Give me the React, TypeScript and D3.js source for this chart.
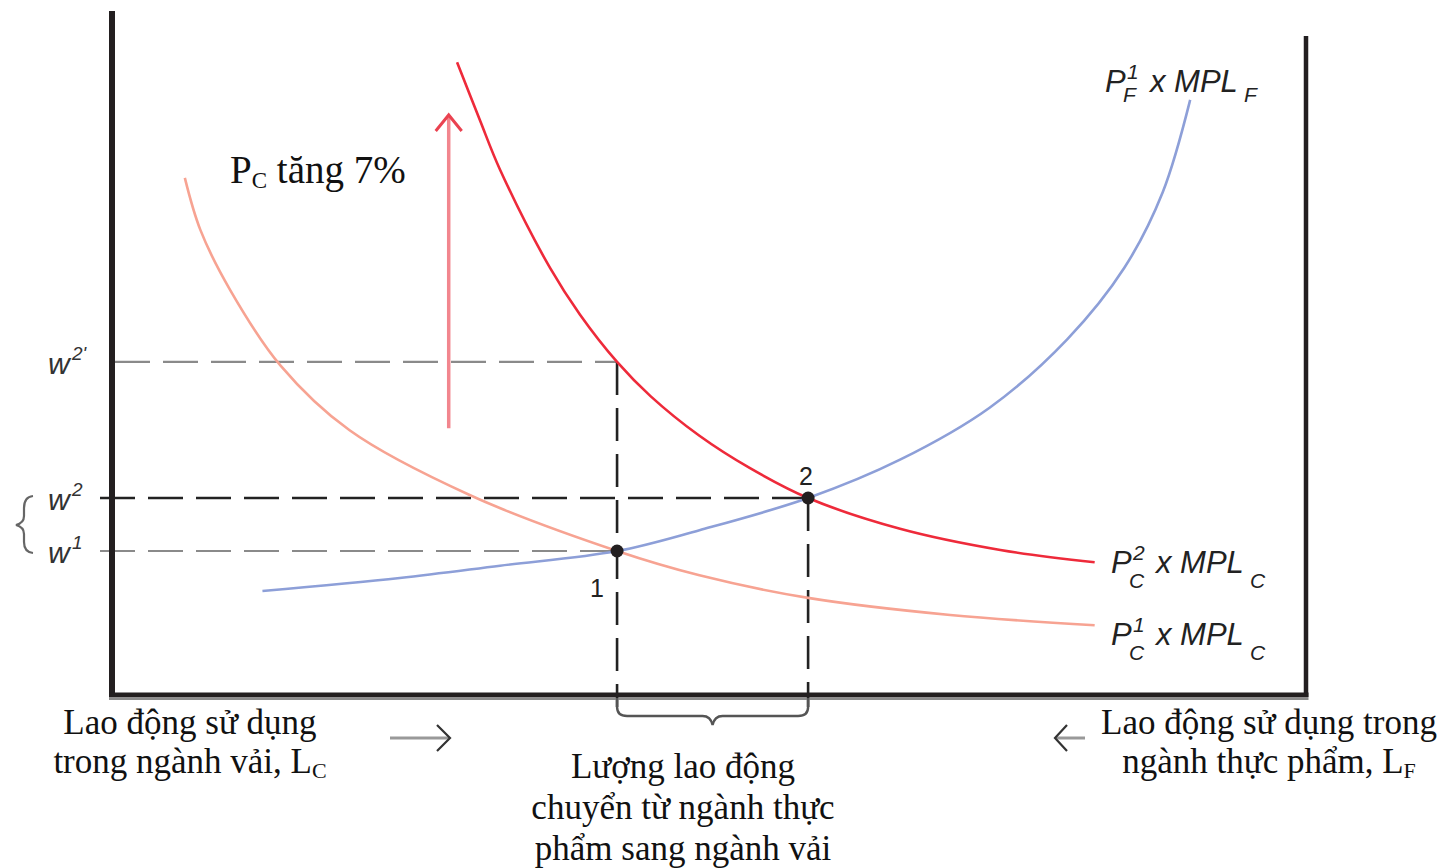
import React from "react";
import * as d3 from "d3";

const W = 1446;
const H = 868;

// Curves in (labor units 0-100, wage units 0-100)
const mplFCurve: [number, number][] = [
  [12.6, 15.2], [24.1, 17.1], [32.5, 18.9], [42.3, 21.05], [49.2, 24.1],
  [58.3, 28.8], [66.0, 34.4], [73.5, 42.0], [80.0, 52.0], [84.8, 62.5],
  [88.0, 73.5], [90.3, 87.0],
];
const mplC1Curve: [number, number][] = [
  [6.1, 75.6], [7.4, 68.0], [9.9, 59.2], [14.1, 48.2], [19.9, 38.7],
  [30.0, 29.2], [42.3, 21.05], [49.2, 17.5], [58.3, 14.2], [70.2, 11.7],
  [82.3, 10.2],
];
const mplC2Curve: [number, number][] = [
  [28.9, 92.5], [30.8, 84.1], [32.5, 76.8], [36.7, 62.4], [39.2, 55.6],
  [42.3, 48.7], [45.1, 43.7], [49.2, 37.9], [53.4, 33.2], [58.3, 28.8],
  [66.0, 24.3], [74.4, 21.2], [82.3, 19.4],
];

const wage1 = 21.05;
const wage2 = 28.8;
const wage2p = 48.7;
const labor1 = 42.3;
const labor2 = 58.3;

const arrowX = 28.2;
const arrowFrom = 39.0;
const arrowTo = 84.8;

const leftLabelLines = ["Lao động sử dụng", "trong ngành vải, L"];
const rightLabelLines = ["Lao động sử dụng trong", "ngành thực phẩm, L"];
const midLabelLines = ["Lượng lao động", "chuyển từ ngành thực", "phẩm sang ngành vải"];

const x = d3.scaleLinear().domain([0, 100]).range([112, 1306]);
const y = d3.scaleLinear().domain([0, 100]).range([695, 11]);

const line = d3
  .line<[number, number]>()
  .x((d) => x(d[0]))
  .y((d) => y(d[1]))
  .curve(d3.curveCatmullRom.alpha(0.5));

const SANS = "'Liberation Sans', Arial, sans-serif";
const SERIF = "'Liberation Serif', 'Times New Roman', serif";

function CurveLabel({ px, py, sup, sub, subDy }: { px: number; py: number; sup: string; sub: string; subDy: number }) {
  return (
    <g fontFamily={SANS} fontStyle="italic" fill="#222">
      <text x={px} y={py} fontSize={31}>P</text>
      <text x={px + 22} y={py - 13} fontSize={21}>{sup}</text>
      <text x={px + 18} y={py + subDy} fontSize={21}>{sub}</text>
      <text x={px + 45} y={py} fontSize={31}>x MPL</text>
      <text x={px + 139} y={py + subDy} fontSize={21}>{sub}</text>
    </g>
  );
}

function WLabel({ py, sup }: { py: number; sup: string }) {
  return (
    <g fontFamily={SANS} fontStyle="italic" fill="#333">
      <text x={48} y={py + 12} fontSize={30}>w</text>
      <text x={72} y={py - 2} fontSize={19}>{sup}</text>
    </g>
  );
}

export default function App() {
  const dash = "35 13";
  const x1 = x(labor1);
  const x2 = x(labor2);
  const axisY = y(0);
  const braceY = axisY + 21;
  const xm = (x1 + x2) / 2;
  const ax = x(arrowX);
  const ayTop = y(arrowTo);
  return (
    <svg width={W} height={H} style={{ position: "absolute", left: 0, top: 0, background: "#fff" }}>
      <rect width={W} height={H} fill="#fff" />

      {/* dashed guide lines */}
      <line x1={115} x2={x1} y1={y(wage2p)} y2={y(wage2p)} stroke="#8a8a8a" strokeWidth={2.2} strokeDasharray={dash} />
      <line x1={100} x2={x1} y1={y(wage1)} y2={y(wage1)} stroke="#8a8a8a" strokeWidth={2.2} strokeDasharray={dash} />
      <line x1={100} x2={x2} y1={y(wage2)} y2={y(wage2)} stroke="#222" strokeWidth={2.6} strokeDasharray={dash} />
      <line x1={x1} x2={x1} y1={y(wage2p)} y2={axisY + 12} stroke="#222" strokeWidth={2.6} strokeDasharray="33 13" />
      <line x1={x2} x2={x2} y1={y(wage2)} y2={axisY + 12} stroke="#222" strokeWidth={2.6} strokeDasharray="33 13" />

      {/* curves */}
      <path d={line(mplC1Curve) || ""} fill="none" stroke="#f7a392" strokeWidth={2.6} />
      <path d={line(mplFCurve) || ""} fill="none" stroke="#8d9fd8" strokeWidth={2.6} />
      <path d={line(mplC2Curve) || ""} fill="none" stroke="#ee2a3a" strokeWidth={2.6} />

      {/* axes */}
      <line x1={112} x2={112} y1={11} y2={axisY + 2} stroke="#231f20" strokeWidth={6} />
      <line x1={1306} x2={1306} y1={36} y2={axisY + 2} stroke="#231f20" strokeWidth={4.5} />
      <line x1={109} x2={1308.5} y1={axisY} y2={axisY} stroke="#231f20" strokeWidth={5} />
      <line x1={109} x2={1308.5} y1={axisY + 4} y2={axisY + 4} stroke="#8c8c8c" strokeWidth={2} />

      {/* equilibrium points */}
      <circle cx={x1} cy={y(wage1)} r={6.5} fill="#231f20" />
      <circle cx={x2} cy={y(wage2)} r={6.5} fill="#231f20" />
      <text x={597} y={597} fontFamily={SANS} fontSize={25} fill="#222" textAnchor="middle">1</text>
      <text x={806} y={485} fontFamily={SANS} fontSize={25} fill="#222" textAnchor="middle">2</text>

      {/* red arrow */}
      <line x1={ax} x2={ax} y1={y(arrowFrom)} y2={ayTop + 2} stroke="#f2868e" strokeWidth={3.5} />
      <path d={`M${ax - 13},${ayTop + 16} L${ax},${ayTop} L${ax + 13},${ayTop + 16}`} fill="none" stroke="#ea4250" strokeWidth={3} />
      <text x={230} y={183} fontFamily={SERIF} fontSize={39} fill="#111">
        P<tspan fontSize={23} dy={5}>C</tspan>
        <tspan dy={-5}> tăng 7%</tspan>
      </text>

      {/* wage labels */}
      <WLabel py={y(wage2p)} sup="2'" />
      <WLabel py={y(wage2)} sup="2" />
      <WLabel py={y(wage1)} sup="1" />
      <path d="M33,496 Q24,497 24,508 L24,516 Q24,523 16,525 Q24,527 24,534 L24,542 Q24,552 33,553" fill="none" stroke="#666" strokeWidth={2.2} />

      {/* curve labels */}
      <CurveLabel px={1105} py={92} sup="1" sub="F" subDy={10} />
      <CurveLabel px={1111} py={573} sup="2" sub="C" subDy={15} />
      <CurveLabel px={1111} py={645} sup="1" sub="C" subDy={15} />

      {/* bottom brace */}
      <path
        d={`M${x1},${axisY + 3} L${x1},${braceY - 9} Q${x1},${braceY} ${x1 + 10},${braceY} L${xm - 10},${braceY} Q${xm - 2},${braceY} ${xm},${braceY + 9} Q${xm + 2},${braceY} ${xm + 10},${braceY} L${x2 - 10},${braceY} Q${x2},${braceY} ${x2},${braceY - 9} L${x2},${axisY + 3}`}
        fill="none"
        stroke="#555"
        strokeWidth={2.4}
      />

      {/* bottom texts */}
      <g fontFamily={SERIF} fontSize={35} fill="#111" textAnchor="middle">
        <text x={190} y={734}>{leftLabelLines[0]}</text>
        <text x={190} y={773}>
          {leftLabelLines[1]}
          <tspan fontSize={22} dy={5}>C</tspan>
        </text>
        <text x={1269} y={734}>{rightLabelLines[0]}</text>
        <text x={1269} y={773}>
          {rightLabelLines[1]}
          <tspan fontSize={22} dy={5}>F</tspan>
        </text>
        {midLabelLines.map((t, i) => (
          <text key={i} x={683} y={778 + i * 41}>{t}</text>
        ))}
      </g>

      {/* bottom arrows */}
      <line x1={390} x2={449} y1={738} y2={738} stroke="#999" strokeWidth={3} />
      <path d="M437,725 L450,738 L437,751" fill="none" stroke="#333" strokeWidth={2.2} />
      <line x1={1056} x2={1085} y1={738} y2={738} stroke="#999" strokeWidth={3} />
      <path d="M1067,725 L1055,738 L1067,751" fill="none" stroke="#333" strokeWidth={2.2} />
    </svg>
  );
}
